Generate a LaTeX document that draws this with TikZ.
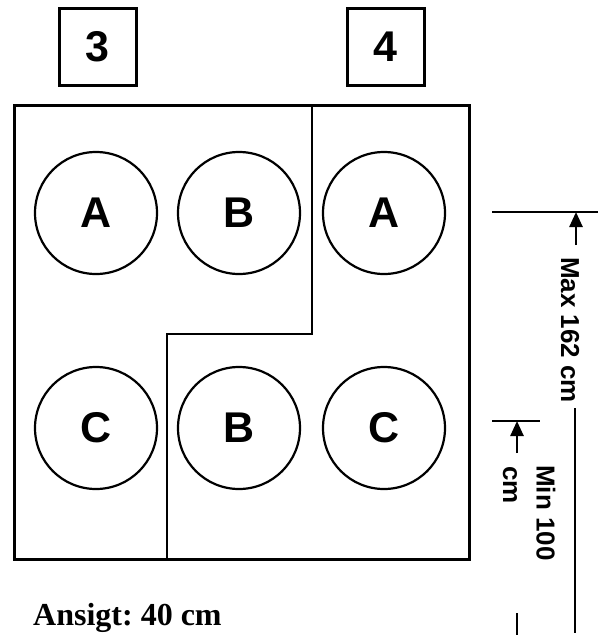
\documentclass[tikz,border=0pt]{standalone}
\usepackage{fontspec}
\setmainfont{Liberation Serif}
\newfontfamily\arialfont{Liberation Sans}
\usetikzlibrary{arrows.meta}
\frenchspacing
\tikzset{
  thick line/.style={line width=3pt},
  labelbox/.style={draw, line width=3pt, minimum width=77pt, minimum height=77pt, inner sep=0pt, font=\arialfont\bfseries\fontsize{43}{43}\selectfont},
  seat/.style={draw, circle, line width=2.2pt, minimum size=122pt, inner sep=0pt, font=\arialfont\bfseries\fontsize{43}{43}\selectfont},
  dimline/.style={line width=2.8pt},
  dimarrow/.style={line width=2.5pt, -{Triangle[length=15pt,width=13pt]}},
  dimtext/.style={rotate=-90, inner sep=0pt, font=\arialfont\bfseries\fontsize{26}{26}\selectfont}
}
\begin{document}
\begin{tikzpicture}[x=1pt,y=-1pt]
\useasboundingbox (0,0) rectangle (603,635);
% label boxes
\node[labelbox] (b3) at (97.5,46.5) {3};
\node[labelbox] (b4) at (385.5,46.5) {4};
% outer frame
\coordinate (tl) at (14,105);
\coordinate (br) at (469,559);
\draw[thick line] (tl) rectangle (br);
% divider
\coordinate (d1) at (312,105);
\coordinate (d2) at (312,334);
\coordinate (d3) at (167,334);
\coordinate (d4) at (167,559);
\draw[line width=2.5pt] (d1) -- (d2) -- (d3) -- (d4);
% seats
\node[seat] (a1) at (96,213) {A};
\node[seat] (b1) at (239,213) {B};
\node[seat] (a2) at (384,213) {A};
\node[seat] (c1) at (96,428) {C};
\node[seat] (b2) at (239,428) {B};
\node[seat] (c2) at (384,428) {C};
% Max dimension
\coordinate (mx1) at (492,212);
\coordinate (mx2) at (598,212);
\draw[dimline] (mx1) -- (mx2);
\coordinate (mxa) at (576,245);
\coordinate (mxt) at (576,212);
\draw[dimarrow] (mxa) -- (mxt);
\node[dimtext] (maxtxt) at (570,330) {Max 162 cm};
\coordinate (ml1) at (575,408);
\coordinate (ml2) at (575,633);
\draw[dimline] (ml1) -- (ml2);
% Min dimension
\coordinate (mn1) at (492,421);
\coordinate (mn2) at (540,421);
\draw[dimline] (mn1) -- (mn2);
\coordinate (mna) at (517,453);
\coordinate (mnt) at (517,421);
\draw[dimarrow] (mna) -- (mnt);
\node[dimtext] (mintxt) at (546,513) {Min 100};
\node[dimtext] (cmtxt) at (510,485) {cm};
\coordinate (tk1) at (517,613);
\coordinate (tk2) at (517,635);
\draw[dimline] (tk1) -- (tk2);
% caption
\node[anchor=base west, inner sep=0pt, font=\bfseries\fontsize{32}{32}\selectfont] (cap) at (33,625) {Ansigt: 40 cm};
\end{tikzpicture}
\end{document}
